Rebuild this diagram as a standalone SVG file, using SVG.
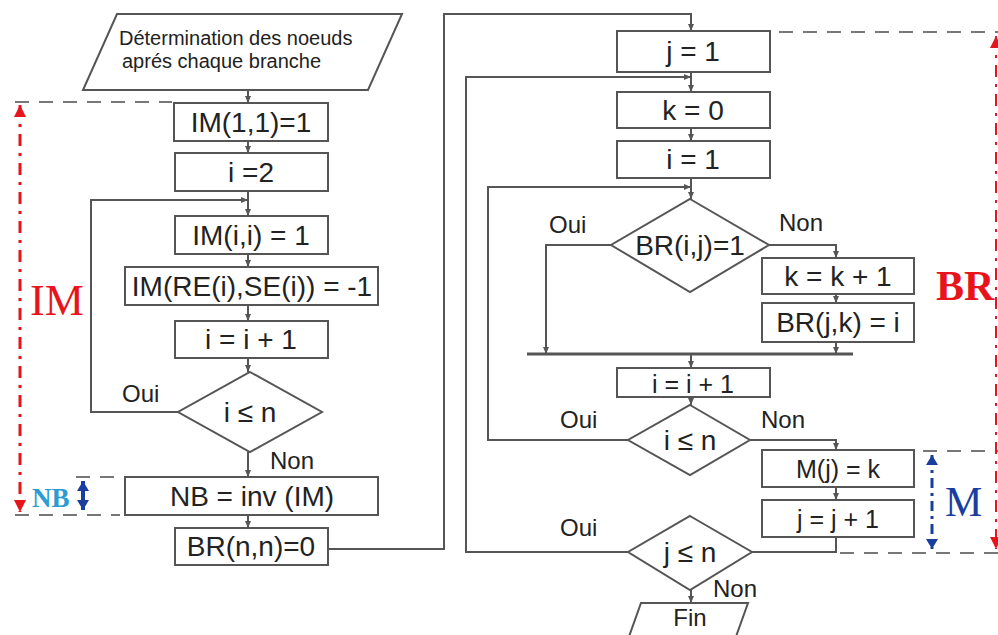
<svg xmlns="http://www.w3.org/2000/svg" width="998" height="635" viewBox="0 0 998 635">
<defs>
<marker id="ah" markerWidth="8" markerHeight="8" refX="7" refY="4" orient="auto" markerUnits="userSpaceOnUse"><path d="M0,1 L7,4 L0,7 z" fill="#555"/></marker>
<marker id="redh" markerWidth="14" markerHeight="14" refX="12" refY="6" orient="auto-start-reverse" markerUnits="userSpaceOnUse"><path d="M0,0 L12,6 L0,12 z" fill="#e8141c"/></marker>
<marker id="blueh" markerWidth="14" markerHeight="14" refX="10" refY="6" orient="auto-start-reverse" markerUnits="userSpaceOnUse"><path d="M0,0 L10,6 L0,12 z" fill="#1a3ea0"/></marker>
</defs>
<style>
.b{fill:#fff;stroke:#555;stroke-width:2}
.t{font-family:"Liberation Sans",Arial,sans-serif;font-size:28px;fill:#222;text-anchor:middle}
.s{font-family:"Liberation Sans",Arial,sans-serif;font-size:20px;fill:#222}
.l{font-family:"Liberation Sans",Arial,sans-serif;font-size:24px;fill:#222}
.c{fill:none;stroke:#555;stroke-width:2}
.ca{fill:none;stroke:#555;stroke-width:2;marker-end:url(#ah)}
.d{fill:none;stroke:#777;stroke-width:2;stroke-dasharray:14 10}
</style>
<rect width="998" height="635" fill="#fff"/>

<g id="annotations">
<line class="d" x1="15" y1="102" x2="172" y2="102"/>
<line class="d" x1="76" y1="477" x2="120" y2="477"/>
<line class="d" x1="15" y1="515" x2="120" y2="515"/>
<line class="d" x1="779" y1="32" x2="998" y2="32"/>
<line class="d" x1="923" y1="451" x2="998" y2="451"/>
<line class="d" x1="840" y1="553" x2="998" y2="553"/>
<line x1="20" y1="105" x2="20" y2="512" stroke="#e8141c" stroke-width="3" stroke-dasharray="12 7 3 7" marker-start="url(#redh)" marker-end="url(#redh)"/>
<line x1="996" y1="36" x2="996" y2="549" stroke="#e8141c" stroke-width="2" stroke-dasharray="12 7 3 7" marker-start="url(#redh)" marker-end="url(#redh)"/>
<line x1="932" y1="455" x2="932" y2="549" stroke="#1a3ea0" stroke-width="3" stroke-dasharray="10 5 3 5" marker-start="url(#blueh)" marker-end="url(#blueh)"/>
<line x1="83" y1="481" x2="83" y2="510" stroke="#1a3ea0" stroke-width="4" marker-start="url(#blueh)" marker-end="url(#blueh)"/>
<text x="30" y="315" font-family="Liberation Serif,serif" font-size="44" fill="#e8141c">IM</text>
<text x="32" y="507" font-family="Liberation Serif,serif" font-size="27" font-weight="bold" fill="#2b9bd2">NB</text>
<text x="936" y="300" font-family="Liberation Serif,serif" font-size="42" font-weight="bold" fill="#e8141c">BR</text>
<text x="945" y="516" font-family="Liberation Serif,serif" font-size="42" fill="#1a3ea0">M</text>
</g>

<g id="connectors">
<line class="ca" x1="248" y1="90" x2="248" y2="103"/>
<line class="ca" x1="248" y1="141" x2="248" y2="153"/>
<line class="ca" x1="248" y1="191" x2="248" y2="216"/>
<polyline class="ca" points="178,412 91,412 91,200 248,200"/>
<line class="ca" x1="248" y1="254" x2="248" y2="267"/>
<line class="ca" x1="248" y1="305" x2="248" y2="321"/>
<line class="ca" x1="248" y1="358" x2="248" y2="372"/>
<line class="ca" x1="248" y1="452" x2="248" y2="477"/>
<line class="ca" x1="248" y1="515" x2="248" y2="528"/>
<polyline class="ca" points="328,549 444,549 444,14 691,14 691,31"/>
<line class="ca" x1="691" y1="72" x2="691" y2="92"/>
<polyline class="ca" points="628,552 466,552 466,77 691,77"/>
<line class="ca" x1="691" y1="128" x2="691" y2="141"/>
<line class="ca" x1="691" y1="178" x2="691" y2="199"/>
<polyline class="ca" points="628,440 488,440 488,187 691,187"/>
<polyline class="ca" points="611,245 546,245 546,354"/>
<polyline class="ca" points="769,245 836,245 836,258"/>
<line class="ca" x1="836" y1="294" x2="836" y2="303"/>
<line class="ca" x1="836" y1="342" x2="836" y2="354"/>
<line x1="527" y1="354" x2="853" y2="354" stroke="#555" stroke-width="3"/>
<line class="ca" x1="691" y1="354" x2="691" y2="368"/>
<line class="ca" x1="691" y1="397" x2="691" y2="405"/>
<polyline class="ca" points="750,440 836,440 836,450"/>
<line class="ca" x1="836" y1="487" x2="836" y2="500"/>
<polyline class="c" points="836,537 836,552 752,552"/>
<line class="ca" x1="691" y1="590" x2="691" y2="603"/>
<text class="l" x="122" y="402">Oui</text>
<text class="l" x="270" y="469">Non</text>
<text class="l" x="549" y="233">Oui</text>
<text class="l" x="779" y="231">Non</text>
<text class="l" x="560" y="428">Oui</text>
<text class="l" x="761" y="428">Non</text>
<text class="l" x="560" y="536">Oui</text>
<text class="l" x="713" y="597">Non</text>
</g>

<g id="start"><polygon class="b" points="117,14 402,14 368,90 83,90"/>
<text class="s" x="119" y="45">Détermination des noeuds</text>
<text class="s" x="122" y="68">aprés chaque branche</text></g>
<g id="im11"><rect class="b" x="174" y="103" width="154" height="38"/><text class="t" x="251" y="132">IM(1,1)=1</text></g>
<g id="i2"><rect class="b" x="175" y="153" width="153" height="38"/><text class="t" x="251" y="182">i =2</text></g>
<g id="imii"><rect class="b" x="175" y="216" width="153" height="38"/><text class="t" x="251" y="245">IM(i,i) = 1</text></g>
<g id="imre"><rect class="b" x="125" y="267" width="253" height="38"/><text class="t" x="252" y="296">IM(RE(i),SE(i)) = -1</text></g>
<g id="iinc"><rect class="b" x="175" y="321" width="153" height="37"/><text class="t" x="251" y="349">i = i + 1</text></g>
<g id="dec1"><polygon class="b" points="250,372 322,412 250,452 178,412"/><text class="t" x="250" y="422">i ≤ n</text></g>
<g id="nb"><rect class="b" x="125" y="477" width="253" height="38"/><text class="t" x="252" y="506">NB = inv (IM)</text></g>
<g id="brnn"><rect class="b" x="175" y="528" width="153" height="37"/><text class="t" x="251" y="556">BR(n,n)=0</text></g>

<g id="j1"><rect class="b" x="617" y="31" width="153" height="41"/><text class="t" x="693" y="61">j = 1</text></g>
<g id="k0"><rect class="b" x="617" y="92" width="153" height="36"/><text class="t" x="693" y="120">k = 0</text></g>
<g id="i1"><rect class="b" x="617" y="141" width="153" height="37"/><text class="t" x="693" y="169">i = 1</text></g>
<g id="dec2"><polygon class="b" points="690,199 769,245 690,292 611,245"/><text class="t" x="690" y="255">BR(i,j)=1</text></g>
<g id="kinc"><rect class="b" x="762" y="258" width="152" height="36"/><text class="t" x="838" y="286">k = k + 1</text></g>
<g id="brjk"><rect class="b" x="762" y="303" width="152" height="39"/><text class="t" x="838" y="332">BR(j,k) = i</text></g>
<g id="iinc2"><rect class="b" x="617" y="368" width="153" height="29"/><text class="t" x="693" y="393" style="font-size:25px">i = i + 1</text></g>
<g id="dec3"><polygon class="b" points="690,405 750,440 690,475 628,440"/><text class="t" x="690" y="450">i ≤ n</text></g>
<g id="mj"><rect class="b" x="762" y="450" width="152" height="37"/><text class="t" x="838" y="478" style="font-size:25px">M(j) = k</text></g>
<g id="jinc"><rect class="b" x="762" y="500" width="152" height="37"/><text class="t" x="838" y="528" style="font-size:25px">j = j + 1</text></g>
<g id="dec4"><polygon class="b" points="690,516 752,552 690,590 628,552"/><text class="t" x="690" y="562">j ≤ n</text></g>
<g id="fin"><polygon class="b" points="641,603 748,603 733,645 626,645"/><text class="l" x="690" y="626" text-anchor="middle">Fin</text></g>
</svg>
